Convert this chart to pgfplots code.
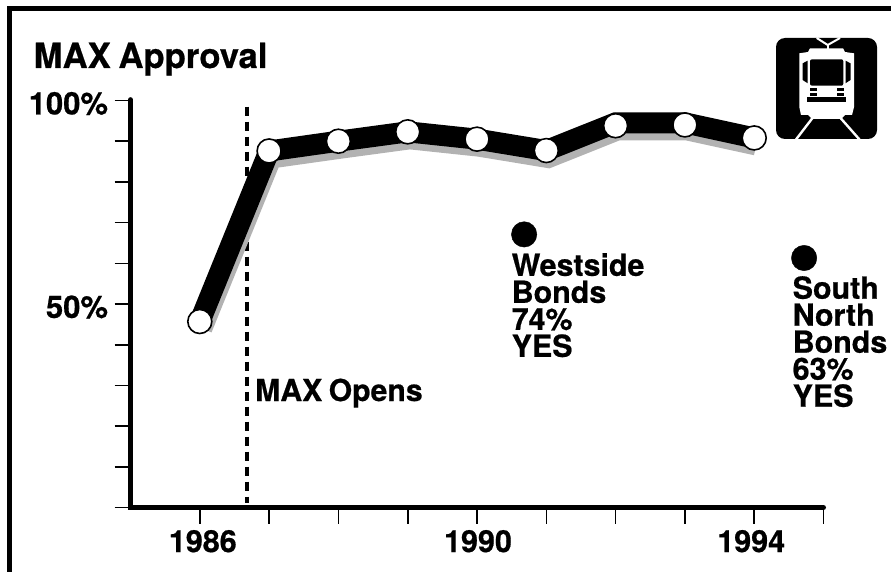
\documentclass[border=0pt]{standalone}
\usepackage{pgfplots}
\pgfplotsset{compat=1.18}
\usepackage{fontspec}
\setmainfont{TeX Gyre Heros}[BoldFont={* Bold},BoldFeatures={FakeBold=0.6}]
\begin{document}
\begin{tikzpicture}[x=1pt,y=1pt]
\useasboundingbox (0,0) rectangle (891,571);
% frame
\draw[line width=5pt,line cap=butt,miter limit=10] (9,-1) -- (9,562) -- (892,562);
\begin{axis}[
  at={(130.5pt,63.5pt)},anchor=south west,scale only axis,
  width=693pt,height=407pt,
  xmin=1985,xmax=1995,ymin=0,ymax=100,
  axis lines=left,
  axis line style={-},
  tick align=outside,major tick length=16pt,
  tick style={black,line width=1.6pt},
  xtick={1986,1987,1988,1989,1990,1991,1992,1993,1994,1995},
  xticklabels={\hspace{4pt}1986,,,,1990,,,,1994\rule{8pt}{0pt},},
  ytick={0,10,20,30,40,50,60,70,80,90,100},
  yticklabels={,,,,,50\%,,,,,100\%},
  xticklabel style={font=\fontsize{30.5}{30.5}\selectfont\bfseries,/pgf/number format/assume math mode=true,yshift=-3pt,xshift=1pt},
  yticklabel style={font=\fontsize{31}{31}\selectfont\bfseries,xshift=-3pt,yshift=-3pt},
  clip=false,
]
\addplot[black,line width=3.7pt,dash pattern=on 9.5pt off 5.5pt] coordinates {(1986.68,98.5) (1986.68,1)};
\addplot[gray!60,line width=21pt,line join=miter,xshift=2pt,yshift=-7pt] coordinates {(1986,45.7) (1987,87.6) (1988,90) (1989,92.3) (1990,90.5) (1991,87.7) (1992,94.5) (1993,94.5) (1994,90.8)};
\addplot[black,line width=21pt,line join=miter,mark=none] coordinates {(1986,45.7) (1987,87.6) (1988,90) (1989,92.3) (1990,90.5) (1991,87.7) (1992,94.5) (1993,94.5) (1994,90.8)};
\addplot[only marks,mark=*,mark size=12pt,mark options={fill=white,draw=black,line width=1.6pt}] coordinates {(1986,45.7) (1987,87.6) (1988,90) (1989,92.3) (1990,90.5) (1991,87.7) (1992,93.8) (1993,94) (1994,90.8)};
\addplot[only marks,mark=*,mark size=12.7pt,black] coordinates {(1990.68,67.1) (1994.72,61.3)};
\addplot[black,line width=5pt,line cap=round] coordinates {(1985,100.2) (1985,0) (1995,0)};
\end{axis}
\begin{scope}[shift={(0,571)},y=-1pt]
\node[anchor=base west,inner sep=0,font=\fontsize{34.7}{34.7}\selectfont\bfseries] at (33.5,68) {MAX\hspace{-2pt} Approval};
\node[anchor=base west,inner sep=0,font=\fontsize{30.2}{30.2}\selectfont\bfseries] at (255,401) {MAX\hspace{-2pt} Opens};
\node[anchor=north west,inner sep=0,align=left,font=\fontsize{30.4}{27}\selectfont\bfseries] at (511.5,253) {Westside\\Bonds\\74\%\\YES};
\node[anchor=north west,inner sep=0,align=left,font=\fontsize{30.4}{27}\selectfont\bfseries] at (792.5,276) {South\\North\\Bonds\\63\%\\YES};
% icon
\fill[black,rounded corners=9pt] (776,38) rectangle (877,139);
\fill[white] (799.3,53.3) -- (808,52) -- (810,48.3) -- (843,48.3) -- (845,52) -- (854,53.3) -- (854,107) -- (852,115) -- (845,115) -- (841,119) -- (812,119) -- (808,115) -- (801,115) -- (799.3,107) -- cycle;
\fill[black,rounded corners=2pt] (810,59.3) rectangle (843.3,85.7);
\fill[black] (802.7,63.3) -- (807.7,60.7) -- (807.7,83.3) -- (802.7,80) -- cycle;
\fill[black] (850.5,63.3) -- (845.5,60.7) -- (845.5,83.3) -- (850.5,80) -- cycle;
\fill[black] (810,87.7) rectangle (816.7,91);
\fill[black] (810,92.7) rectangle (816.7,96);
\fill[black] (837.3,87.7) rectangle (844,91);
\fill[black] (837.3,92.7) rectangle (844,96);
\fill[black] (806.7,97.3) rectangle (846,102.3);
\draw[white,line width=2.4pt] (812.5,118) -- (796,139.5);
\draw[white,line width=2.4pt] (840.5,118) -- (859.5,139.5);
\draw[white,line width=2pt] (816.7,38) -- (827.7,45) -- (840,38);
\draw[white,line width=2pt] (827.7,45) -- (827.7,49);
\end{scope}
\end{tikzpicture}
\end{document}
